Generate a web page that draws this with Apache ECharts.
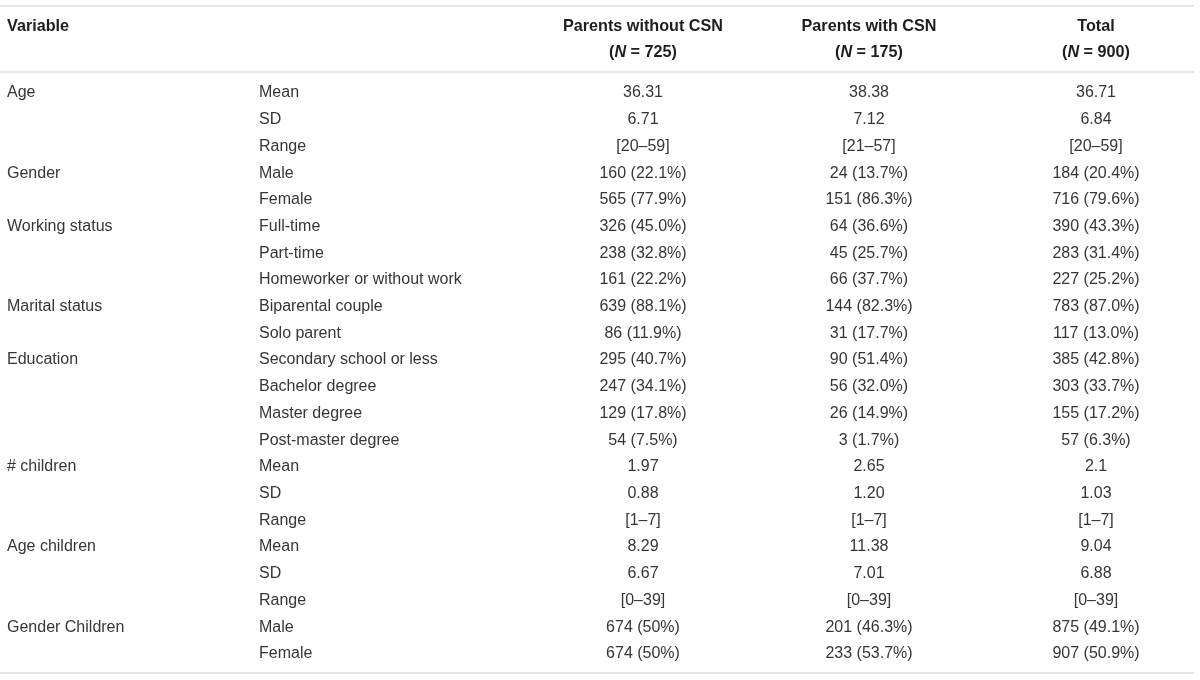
<!DOCTYPE html>
<html>
<head>
<meta charset="utf-8">
<script src="https://cdn.jsdelivr.net/npm/echarts@6/dist/echarts.min.js"></script>
<style>
  html, body { margin: 0; padding: 0; background: #ffffff; }
  #chart { width: 1200px; height: 680px; }
</style>
</head>
<body>
<div id="chart"></div>
<script>
// ---------- Data ----------
const headerVariable = 'Variable';
const columnTitles = ['Parents without CSN', 'Parents with CSN', 'Total'];
const columnN = ['725', '175', '900'];

const variables = ['Age', '', '', 'Gender', '', 'Working status', '', '', 'Marital status', '',
  'Education', '', '', '', '# children', '', '', 'Age children', '', '', 'Gender Children', ''];

const subLabels = ['Mean', 'SD', 'Range', 'Male', 'Female', 'Full-time', 'Part-time',
  'Homeworker or without work', 'Biparental couple', 'Solo parent', 'Secondary school or less',
  'Bachelor degree', 'Master degree', 'Post-master degree', 'Mean', 'SD', 'Range',
  'Mean', 'SD', 'Range', 'Male', 'Female'];

const withoutCSN = ['36.31', '6.71', '[20–59]', '160 (22.1%)', '565 (77.9%)', '326 (45.0%)',
  '238 (32.8%)', '161 (22.2%)', '639 (88.1%)', '86 (11.9%)', '295 (40.7%)', '247 (34.1%)',
  '129 (17.8%)', '54 (7.5%)', '1.97', '0.88', '[1–7]', '8.29', '6.67', '[0–39]',
  '674 (50%)', '674 (50%)'];

const withCSN = ['38.38', '7.12', '[21–57]', '24 (13.7%)', '151 (86.3%)', '64 (36.6%)',
  '45 (25.7%)', '66 (37.7%)', '144 (82.3%)', '31 (17.7%)', '90 (51.4%)', '56 (32.0%)',
  '26 (14.9%)', '3 (1.7%)', '2.65', '1.20', '[1–7]', '11.38', '7.01', '[0–39]',
  '201 (46.3%)', '233 (53.7%)'];

const total = ['36.71', '6.84', '[20–59]', '184 (20.4%)', '716 (79.6%)', '390 (43.3%)',
  '283 (31.4%)', '227 (25.2%)', '783 (87.0%)', '117 (13.0%)', '385 (42.8%)', '303 (33.7%)',
  '155 (17.2%)', '57 (6.3%)', '2.1', '1.03', '[1–7]', '9.04', '6.88', '[0–39]',
  '875 (49.1%)', '907 (50.9%)'];

// ---------- Layout / style ----------
const FONT = '"Liberation Sans", Arial, sans-serif';
const BODY_SIZE = 16;
const HEAD_SIZE = 16.2;
const BODY_COLOR = '#363636';
const HEAD_COLOR = '#1e1e1e';
const RULE_COLOR = '#dcdcdc';

const columns = [
  { values: variables, x: 7, align: 'left' },
  { values: subLabels, x: 259, align: 'left' },
  { values: withoutCSN, x: 643, align: 'center' },
  { values: withCSN, x: 869, align: 'center' },
  { values: total, x: 1096, align: 'center' }
];
const headerCenters = [643, 869, 1096];

const rowIds = subLabels.map((_, i) => String(i));

const chart = echarts.init(document.getElementById('chart'), null, { renderer: 'canvas' });

const series = columns.map((col, ci) => ({
  type: 'custom',
  name: 'col' + ci,
  coordinateSystem: 'cartesian2d',
  silent: true,
  data: col.values.map((v, i) => [col.x, i, v]),
  encode: { x: 0, y: 1 },
  renderItem: function (params, api) {
    const idx = params.dataIndex;
    const txt = col.values[idx];
    if (!txt) return null;
    const p = api.coord([api.value(0), api.value(1)]);
    return {
      type: 'text',
      x: p[0],
      y: p[1],
      style: {
        text: txt,
        fontFamily: FONT,
        fontSize: BODY_SIZE,
        fill: BODY_COLOR,
        align: col.align,
        verticalAlign: 'middle'
      }
    };
  }
}));

const graphics = [];
// rules
[6, 72, 673].forEach(y => {
  graphics.push({
    type: 'line',
    shape: { x1: 0, y1: y, x2: 1194, y2: y },
    style: { stroke: RULE_COLOR, lineWidth: 1.5 },
    silent: true
  });
});
// header
graphics.push({
  type: 'text', x: 7, y: 27,
  style: { text: headerVariable, fontFamily: FONT, fontSize: HEAD_SIZE, fontWeight: 'bold',
    fill: HEAD_COLOR, align: 'left', verticalAlign: 'middle' }
});
columnTitles.forEach((t, i) => {
  graphics.push({
    type: 'text', x: headerCenters[i], y: 27,
    style: { text: t, fontFamily: FONT, fontSize: HEAD_SIZE, fontWeight: 'bold',
      fill: HEAD_COLOR, align: 'center', verticalAlign: 'middle' }
  });
  graphics.push({
    type: 'text', x: headerCenters[i], y: 53,
    style: {
      text: '{b|(}{i|N}{b| = ' + columnN[i] + ')}',
      align: 'center', verticalAlign: 'middle',
      rich: {
        b: { fontFamily: FONT, fontSize: HEAD_SIZE, fontWeight: 'bold', fill: HEAD_COLOR },
        i: { fontFamily: FONT, fontSize: HEAD_SIZE, fontWeight: 'bold', fontStyle: 'italic', fill: HEAD_COLOR }
      }
    }
  });
});

chart.setOption({
  animation: false,
  backgroundColor: '#ffffff',
  grid: { left: 0, right: 0, top: 79.6, bottom: 12.7 },
  xAxis: { type: 'value', min: 0, max: 1200, show: false },
  yAxis: { type: 'category', data: rowIds, inverse: true, show: false },
  series: series,
  graphic: graphics
});
</script>
</body>
</html>
